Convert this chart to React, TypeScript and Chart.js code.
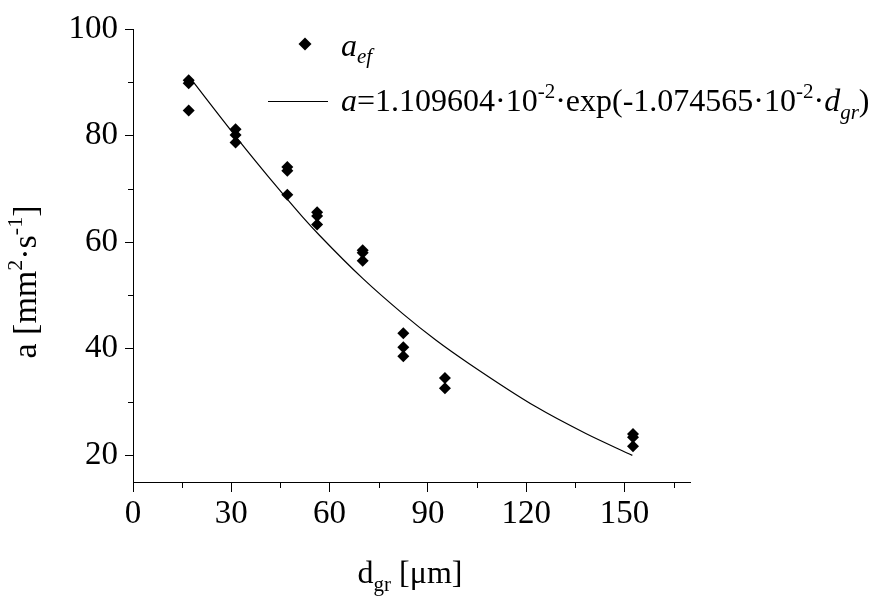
import { useEffect, useRef } from "react";
import { Chart, registerables } from "chart.js";

Chart.register(...registerables);

// measured points: grain diameter d_gr [µm] and effective diffusivity a_ef
const grainSize = [17, 17, 17, 31.3, 31.3, 31.3, 47.1, 47.1, 47.1, 56.2, 56.2, 56.2, 70.1, 70.1, 70.1, 82.5, 82.5, 82.5, 95.2, 95.2, 152.6, 152.6, 152.6];
const aEf = [90.4, 89.8, 84.7, 81.2, 80.1, 78.7, 74.1, 73.4, 68.9, 65.6, 64.9, 63.3, 58.5, 58.0, 56.5, 42.9, 40.3, 38.6, 34.5, 32.6, 24.0, 23.4, 21.7];

// fitted curve
const fitX = [17.2, 31.0, 44.7, 51.8, 56.9, 70.1, 82.3, 92.5, 102.6, 123.0, 138.2, 152.4];
const fitY = [91.0, 80.1, 69.8, 64.7, 61.3, 53.2, 46.6, 41.6, 37.2, 29.1, 24.1, 20.0];

const xTicks = [0, 30, 60, 90, 120, 150];
const xMinor = [15, 45, 75, 105, 135, 165];
const yTicks = [20, 40, 60, 80, 100];
const yMinor = [30, 50, 70, 90];

const SERIF = "'Liberation Serif', 'Times New Roman', serif";

type Seg = { t: string; size: number; italic?: boolean; dy?: number };

function segWidth(ctx: CanvasRenderingContext2D, segs: Seg[]) {
  let w = 0;
  for (const s of segs) {
    ctx.font = `${s.italic ? "italic " : ""}${s.size}px ${SERIF}`;
    w += ctx.measureText(s.t).width;
  }
  return w;
}

function drawSegs(ctx: CanvasRenderingContext2D, x: number, y: number, segs: Seg[]) {
  let cx = x;
  ctx.textBaseline = "alphabetic";
  ctx.textAlign = "left";
  for (const s of segs) {
    ctx.font = `${s.italic ? "italic " : ""}${s.size}px ${SERIF}`;
    ctx.fillText(s.t, cx, y + (s.dy || 0));
    cx += ctx.measureText(s.t).width;
  }
}

const decorPlugin = {
  id: "decor",
  afterDraw(chart: any) {
    const ctx: CanvasRenderingContext2D = chart.ctx;
    const xs = chart.scales.x;
    const ys = chart.scales.y;
    const area = chart.chartArea;
    ctx.save();
    ctx.strokeStyle = "#000";
    ctx.fillStyle = "#000";
    ctx.lineWidth = 1;
    // minor ticks
    ctx.beginPath();
    for (const v of xMinor) {
      const px = Math.round(xs.getPixelForValue(v)) + 0.5;
      ctx.moveTo(px, area.bottom);
      ctx.lineTo(px, area.bottom + 6);
    }
    for (const v of yMinor) {
      const py = Math.round(ys.getPixelForValue(v)) + 0.5;
      ctx.moveTo(area.left - 5, py);
      ctx.lineTo(area.left, py);
    }
    ctx.stroke();

    // y axis title
    ctx.save();
    ctx.translate(36, 282);
    ctx.rotate(-Math.PI / 2);
    const ySegs: Seg[] = [
      { t: "a [mm", size: 34 },
      { t: "2", size: 22, dy: -14 },
      { t: "·s", size: 34 },
      { t: "-1", size: 22, dy: -14 },
      { t: "]", size: 34 },
    ];
    drawSegs(ctx, -segWidth(ctx, ySegs) / 2, 0, ySegs);
    ctx.restore();

    // x axis title
    const xSegs: Seg[] = [
      { t: "d", size: 32 },
      { t: "gr", size: 21, dy: 8 },
      { t: " [μm]", size: 32 },
    ];
    drawSegs(ctx, 410 - segWidth(ctx, xSegs) / 2, 583, xSegs);

    // legend
    ctx.beginPath();
    const dx = 305, dyc = 44, r = 6.5;
    ctx.moveTo(dx, dyc - r);
    ctx.lineTo(dx + r, dyc);
    ctx.lineTo(dx, dyc + r);
    ctx.lineTo(dx - r, dyc);
    ctx.closePath();
    ctx.fill();
    drawSegs(ctx, 341, 56, [
      { t: "a", size: 32, italic: true },
      { t: "ef", size: 21, italic: true, dy: 7 },
    ]);
    ctx.beginPath();
    ctx.lineWidth = 1.2;
    ctx.moveTo(268, 101.5);
    ctx.lineTo(328, 101.5);
    ctx.stroke();
    drawSegs(ctx, 341, 111, [
      { t: "a", size: 32, italic: true },
      { t: "=1.109604·10", size: 32 },
      { t: "-2", size: 21, dy: -13 },
      { t: "·exp(-1.074565·10", size: 32 },
      { t: "-2", size: 21, dy: -13 },
      { t: "·", size: 32 },
      { t: "d", size: 32, italic: true },
      { t: "gr", size: 21, italic: true, dy: 8 },
      { t: ")", size: 32 },
    ]);
    ctx.restore();
  },
};

export default function App() {
  const ref = useRef<HTMLCanvasElement | null>(null);
  useEffect(() => {
    if (!ref.current) return;
    const chart = new Chart(ref.current, {
      type: "scatter",
      data: {
        datasets: [
          {
            type: "scatter",
            label: "a_ef",
            data: grainSize.map((x, i) => ({ x, y: aEf[i] })),
            pointStyle: "rectRot",
            pointRadius: 6,
            pointBackgroundColor: "#000",
            pointBorderColor: "#000",
            pointBorderWidth: 0,
          } as any,
          {
            type: "line",
            label: "fit",
            data: fitX.map((x, i) => ({ x, y: fitY[i] })),
            borderColor: "#000",
            borderWidth: 1.2,
            pointRadius: 0,
            showLine: true,
            fill: false,
            cubicInterpolationMode: "monotone",
          } as any,
        ],
      },
      options: {
        animation: false,
        responsive: true,
        maintainAspectRatio: false,
        layout: { padding: { top: 29, right: 184, bottom: 0, left: 0 } },
        plugins: { legend: { display: false }, tooltip: { enabled: false } },
        scales: {
          x: {
            type: "linear",
            min: 0,
            max: 170,
            afterBuildTicks: (s: any) => {
              s.ticks = xTicks.map((v) => ({ value: v }));
            },
            afterFit: (s: any) => {
              s.height = 128;
            },
            border: { display: true, color: "#000", width: 1 },
            grid: { drawOnChartArea: false, drawTicks: true, tickLength: 10, color: "#000", tickColor: "#000" },
            ticks: { color: "#000", padding: 3, font: { family: SERIF, size: 33 }, maxRotation: 0, autoSkip: false },
          },
          y: {
            type: "linear",
            min: 15,
            max: 100,
            afterBuildTicks: (s: any) => {
              s.ticks = yTicks.map((v) => ({ value: v }));
            },
            afterFit: (s: any) => {
              s.width = 133;
            },
            border: { display: true, color: "#000", width: 1 },
            grid: { drawOnChartArea: false, drawTicks: true, tickLength: 8, color: "#000", tickColor: "#000" },
            ticks: { color: "#000", padding: 7, font: { family: SERIF, size: 33 }, autoSkip: false },
          },
        },
      },
      plugins: [decorPlugin],
    });
    return () => chart.destroy();
  }, []);
  return (
    <div style={{ position: "fixed", left: 0, top: 0, width: 874, height: 610, background: "#fff" }}>
      <canvas ref={ref} />
    </div>
  );
}
